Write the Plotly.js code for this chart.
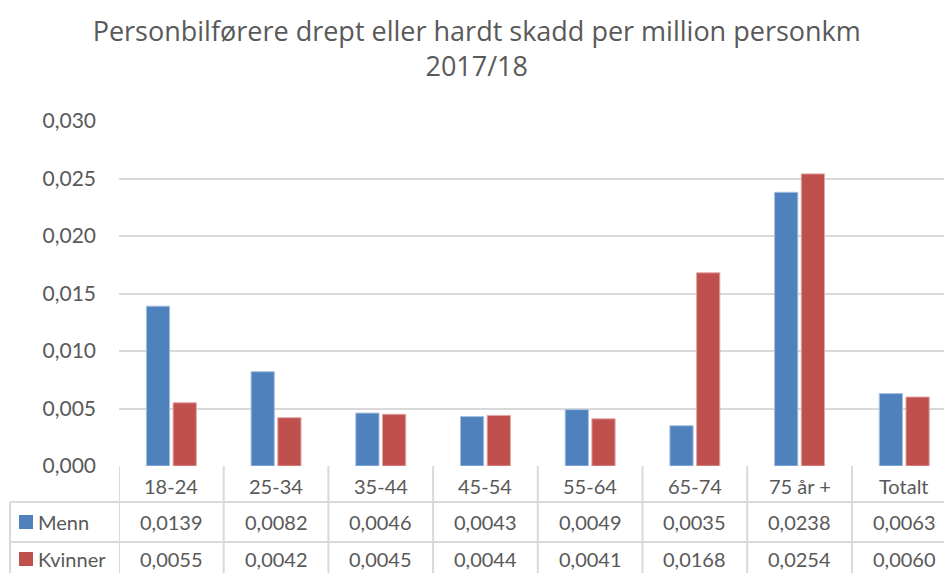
<!DOCTYPE html>
<html>
<head>
<meta charset="utf-8">
<script src="https://cdn.plot.ly/plotly-3.0.1.min.js"></script>
<style>html,body{margin:0;padding:0;background:#fff;}#chart{width:944px;height:573px;}</style>
</head>
<body>
<div id="chart"></div>
<script>
const categories = ["18-24", "25-34", "35-44", "45-54", "55-64", "65-74", "75 år +", "Totalt"];
const menn = [0.0139, 0.0082, 0.0046, 0.0043, 0.0049, 0.0035, 0.0238, 0.0063];
const kvinner = [0.0055, 0.0042, 0.0045, 0.0044, 0.0041, 0.0168, 0.0254, 0.0060];
const seriesNames = ["Menn", "Kvinner"];
const yTicks = [0, 0.005, 0.010, 0.015, 0.020, 0.025, 0.030];

const FONT = "Lato, 'Open Sans', sans-serif";
const TITLE_FONT = "'Open Sans', Lato, sans-serif";
const TXT = "#595959";
const GRID = "#d9d9d9";
const BLUE = "#4f81bd";
const RED = "#c0504d";

const W = 944, H = 573, ML = 119, MT = 121, MB = 107;
const PW = W - ML, PH = H - MT - MB;
const px2x = p => (p - ML) / PW;       // pixel x -> paper x
const py2y = p => (H - MB - p) / PH;   // pixel y -> paper y
const fmt = v => v.toFixed(4).replace('.', ',');

const idx = categories.map((_, i) => i);
const traces = [
  {type: 'bar', x: idx, y: menn, name: seriesNames[0], marker: {color: BLUE, line: {color: '#a7bfe0', width: 1}}, hoverinfo: 'y'},
  {type: 'bar', x: idx, y: kvinner, name: seriesNames[1], marker: {color: RED, line: {color: '#e0a6a5', width: 1}}, hoverinfo: 'y'}
];

const shapes = [];
const annotations = [];
const lineStyle = {color: GRID, width: 2};
for (let i = 0; i <= categories.length; i++) {
  shapes.push({type: 'line', xref: 'x', yref: 'paper', x0: i - 0.5, x1: i - 0.5, y0: 0, y1: py2y(575), line: lineStyle});
}
[502, 542].forEach(p => shapes.push({type: 'line', xref: 'paper', yref: 'paper', x0: px2x(10), x1: 1, y0: py2y(p), y1: py2y(p), line: lineStyle}));
shapes.push({type: 'line', xref: 'paper', yref: 'paper', x0: px2x(10), x1: px2x(10), y0: py2y(502), y1: py2y(575), line: lineStyle});

categories.forEach((c, i) => annotations.push({xref: 'x', yref: 'paper', x: i, y: py2y(486), text: c, showarrow: false, xanchor: 'center', yanchor: 'middle', font: {family: FONT, size: 20, color: TXT}}));
const rows = [{name: seriesNames[0], vals: menn, color: BLUE, cy: 522}, {name: seriesNames[1], vals: kvinner, color: RED, cy: 559}];
rows.forEach(r => {
  shapes.push({type: 'rect', xref: 'paper', yref: 'paper', x0: px2x(19), x1: px2x(33), y0: py2y(r.cy - 7), y1: py2y(r.cy + 7), fillcolor: r.color, line: {width: 0}});
  annotations.push({xref: 'paper', yref: 'paper', x: px2x(36), y: py2y(r.cy), text: r.name, showarrow: false, xanchor: 'left', yanchor: 'middle', font: {family: FONT, size: 20, color: TXT}});
  r.vals.forEach((v, i) => annotations.push({xref: 'x', yref: 'paper', x: i, y: py2y(r.cy), text: fmt(v), showarrow: false, xanchor: 'center', yanchor: 'middle', font: {family: FONT, size: 20, color: TXT}}));
});

const layout = {
  width: W, height: H,
  margin: {l: ML, r: 0, t: MT, b: MB, pad: 0},
  paper_bgcolor: '#fff', plot_bgcolor: '#fff',
  separators: ', ',
  title: {text: 'Personbilførere drept eller hardt skadd per million personkm<br>2017/18', x: 0.505, xanchor: 'center', y: 0.929, yanchor: 'middle', font: {family: TITLE_FONT, size: 27, color: TXT}},
  showlegend: false,
  barmode: 'group', bargap: 0.49, bargroupgap: 0.13,
  xaxis: {range: [-0.5, -0.5 + PW / 104.7], showticklabels: false, showgrid: false, zeroline: false, showline: false, fixedrange: true},
  yaxis: {range: [0, 0.030], tickvals: yTicks, tickformat: '.3f', showgrid: true, gridcolor: GRID, gridwidth: 2, zeroline: false, showline: false, ticks: '', ticklabelstandoff: 22, tickfont: {family: FONT, size: 21, color: TXT}, fixedrange: true},
  shapes: shapes, annotations: annotations
};
Plotly.newPlot('chart', traces, layout, {displayModeBar: false, staticPlot: true});
</script>
</body>
</html>
